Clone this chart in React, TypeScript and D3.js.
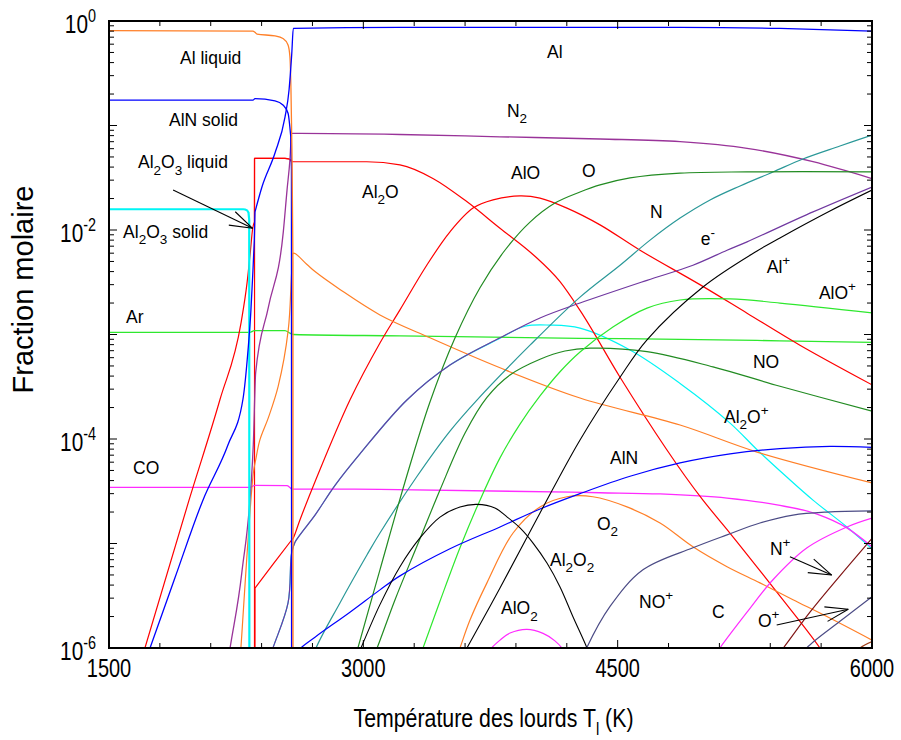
import React from "react";
import * as d3 from "d3";

type Pt = [number, number];

// ---------------- axes data ----------------
const xDomain: [number, number] = [1500, 6000];
const yDomain: [number, number] = [1e-6, 1];
const xTickValues = d3.range(1500, 6001, 300);
const xLabelValues = [1500, 3000, 4500, 6000];
const yDecades = [-6, -5, -4, -3, -2, -1, 0];
const yLabelExponents = [0, -2, -4, -6];
const xTitle = ["Température des lourds T", "l", " (K)"];
const yTitle = "Fraction molaire";

// ---------------- series (T in K, mole fraction) ----------------
const alLiquid: Pt[] = [[1500,0.81],[2349,0.80],[2361,0.78],[2373,0.75],[2479,0.72],[2526,0.68],[2556,0.59],[2567,0.455],[2573,0.23],[2579,0.058],[2585,0.005],[2585.5,1e-7]];
const alnSolid: Pt[] = [[1500,0.175],[2349,0.175],[2361,0.181],[2479,0.172],[2526,0.157],[2556,0.131],[2572,0.078],[2576,0.037],[2577,1e-7]];
const alGas: Pt[] = [[1683,5.4e-7],[1742,1e-6],[1889,4.7e-6],[2054,2.6e-5],[2202,8.8e-5],[2290,2.4e-4],[2320,7.1e-4],[2337,1.7e-3],[2349,4.1e-3],[2357,8.0e-3],[2361,0.0149],[2402,0.0258],[2479,0.0545],[2538,0.12],[2562,0.22],[2578,0.49],[2587,0.85],[3216,0.87],[4278,0.87],[4868,0.87],[5457,0.85],[6000,0.80]];
const al2o3Solid: Pt[] = [[1500,0.0158],[2292,0.0158],[2314,0.0154],[2323,0.0146],[2327,0.0125],[2328,1e-7]];
const al2o3Liquid: Pt[] = [[2358,1e-7],[2358.5,0.0485],[2538,0.0485],[2562,0.0478],[2577,0.0463],[2577.5,1e-7]];
const al2oGas: Pt[] = [[1653,4.7e-7],[1712,1e-6],[1972,2.6e-5],[2155,2.4e-4],[2279,1.3e-3],[2314,3.1e-3],[2332,5.8e-3],[2348,0.0105],[2357.5,0.0119],[2358,0.0485],[2538,0.0485],[2562,0.0478],[2579,0.045],[2626,0.045],[3020,0.045],[3216,0.042],[3413,0.031],[3610,0.0187],[3806,0.0104],[4002,5.8e-3],[4160,3.2e-3],[4278,1.7e-3],[4514,3.9e-4],[5003,2.6e-5],[5162,1.26e-5],[5440,3.4e-6],[5693,1e-6],[5752,7.3e-7]];
const alo: Pt[] = [[2360.5,1e-7],[2361,3.75e-6],[2577,1.08e-5],[2587,1.13e-5],[2626,1.68e-5],[2715,3.9e-5],[2921,2.36e-4],[3098,8.3e-4],[3216,1.72e-3],[3374,4.6e-3],[3511,9.6e-3],[3647,0.0162],[3765,0.0194],[3924,0.0212],[4042,0.0202],[4201,0.0162],[4396,0.0112],[4632,6.4e-3],[4985,3.0e-3],[5263,1.6e-3],[5575,7.9e-4],[6000,3.3e-4]];
const n2: Pt[] = [[2184,4.9e-7],[2214,1e-6],[2283,5.2e-6],[2351,8.8e-5],[2365,4.3e-4],[2440,1.83e-3],[2528,9.6e-3],[2550,0.0241],[2567,0.0468],[2577,0.084],[2626,0.084],[3216,0.082],[3806,0.078],[4396,0.0743],[4868,0.070],[5263,0.0605],[5652,0.045],[6000,0.031]];
const al2: Pt[] = [[2267,5.5e-7],[2278,1e-6],[2351,4.7e-5],[2365,6.3e-5],[2390,9.8e-5],[2440,1.6e-4],[2498,3.2e-4],[2557,1.1e-3],[2577,3.85e-3],[2587,6.0e-3],[2666,4.7e-3],[2715,4.0e-3],[2862,2.7e-3],[3098,1.54e-3],[3393,9.3e-4],[3806,4.8e-4],[4278,2.47e-4],[4868,1.36e-4],[5322,7.5e-5],[6000,3.8e-5]];
const ar: Pt[] = [[1500,1.05e-3],[2332,1.05e-3],[2349,1.08e-3],[2361,1.09e-3],[2538,1.09e-3],[2567,1.03e-3],[2587,1.0e-3],[3216,9.7e-4],[4278,9.2e-4],[4868,9.0e-4],[5457,8.7e-4],[6000,8.4e-4]];
const co: Pt[] = [[1500,3.45e-5],[2332,3.45e-5],[2349,3.55e-5],[2361,3.6e-5],[2550,3.58e-5],[2567,3.43e-5],[2579,3.32e-5],[3098,3.3e-5],[4396,3.06e-5],[4750,2.98e-5],[5145,2.72e-5],[5440,2.34e-5],[5676,1.91e-5],[5852,1.41e-5],[6000,9.3e-6]];
const alnGas: Pt[] = [[2560,7e-7],[2626,9.8e-7],[2715,1.27e-6],[2921,2.2e-6],[3098,3.6e-6],[3216,4.9e-6],[3511,8.9e-6],[3806,1.44e-5],[4042,2.14e-5],[4278,3.0e-5],[4573,4.4e-5],[4868,5.9e-5],[5163,7.2e-5],[5457,8.1e-5],[5752,8.5e-5],[6000,8.3e-5]];
const o: Pt[] = [[2933,6.2e-7],[2968,1e-6],[3098,5.6e-6],[3246,3.9e-5],[3393,2.26e-4],[3541,9.3e-4],[3688,2.8e-3],[3835,6.4e-3],[3983,0.0119],[4130,0.0181],[4278,0.0231],[4396,0.027],[4573,0.0315],[4868,0.035],[5263,0.036],[6000,0.036]];
const no: Pt[] = [[3039,6.9e-7],[3081,1e-6],[3187,2.9e-6],[3317,9.5e-6],[3452,3.25e-5],[3600,1.14e-4],[3729,2.5e-4],[3865,4.1e-4],[4042,5.8e-4],[4189,6.95e-4],[4337,7.4e-4],[4673,6.85e-4],[5062,4.9e-4],[5457,3.2e-4],[6000,1.85e-4]];
const n: Pt[] = [[2656,4.9e-7],[2721,1e-6],[2862,2.7e-6],[3022,7.8e-6],[3098,1.26e-5],[3317,4.4e-5],[3511,1.19e-4],[3670,2.36e-4],[3983,7.9e-4],[4278,2.28e-3],[4514,4.6e-3],[4691,8.0e-3],[4868,0.013],[5045,0.0194],[5222,0.0264],[5416,0.0359],[5593,0.0478],[5811,0.0636],[6000,0.081]];
const eMinus: Pt[] = [[2420,5.9e-7],[2467,1e-6],[2556,2.7e-6],[2577,8.1e-6],[2597,1.03e-5],[2626,1.21e-5],[2715,1.87e-5],[2833,3.6e-5],[2980,7.2e-5],[3257,2.36e-4],[3511,5.1e-4],[3806,9.3e-4],[4042,1.44e-3],[4278,2.0e-3],[4673,3.3e-3],[4944,4.6e-3],[5145,6.4e-3],[5263,7.7e-3],[5652,0.0149],[6000,0.0258]];
const al2oPlus: Pt[] = [[2420,5.9e-7],[2467,1e-6],[2556,2.7e-6],[2577,8.1e-6],[2597,1.03e-5],[2626,1.21e-5],[2715,1.87e-5],[2833,3.6e-5],[2980,7.2e-5],[3257,2.36e-4],[3511,5.1e-4],[3806,9.2e-4],[3953,1.2e-3],[4101,1.23e-3],[4278,1.15e-3],[4573,7.1e-4],[4868,3.4e-4],[5163,1.42e-4],[5322,7.9e-5],[5499,4.3e-5],[5652,2.6e-5],[5852,1.44e-5],[6000,8.9e-6]];
const alPlus: Pt[] = [[3570,7.7e-7],[3611,1e-6],[3806,3.75e-6],[4042,1.96e-5],[4278,9.8e-5],[4514,3.9e-4],[4673,8.9e-4],[5003,2.85e-3],[5322,6.3e-3],[5457,8.4e-3],[5752,0.0152],[6000,0.0241]];
const al2o2: Pt[] = [[2951,7.3e-7],[2986,1e-6],[3098,2.6e-6],[3216,6.0e-6],[3334,1.13e-5],[3452,1.79e-5],[3570,2.24e-5],[3670,2.37e-5],[3776,2.19e-5],[3847,1.8e-5],[3924,1.41e-5],[4001,1.01e-5],[4083,6.5e-6],[4160,3.84e-6],[4237,1.98e-6],[4319,1e-6],[4349,7.3e-7]];
const alo2: Pt[] = [[3717,7.7e-7],[3747,9.6e-7],[3806,1.19e-6],[3865,1.39e-6],[3965,1.51e-6],[4060,1.38e-6],[4130,1.17e-6],[4179,9.6e-7],[4207,7.7e-7]];
const alOPlus: Pt[] = [[3305,6.2e-7],[3352,1e-6],[3452,2.8e-6],[3570,9.1e-6],[3688,2.6e-5],[3806,6.6e-5],[3924,1.39e-4],[4042,2.58e-4],[4160,4.4e-4],[4278,6.8e-4],[4472,1.18e-3],[4673,1.79e-3],[4868,2.14e-3],[5163,2.19e-3],[5457,2.0e-3],[6000,1.61e-3]];
const o2: Pt[] = [[3541,7.3e-7],[3570,1e-6],[3629,1.85e-6],[3729,4.2e-6],[3883,1.26e-5],[4042,2.24e-5],[4201,2.8e-5],[4354,2.8e-5],[4555,2.24e-5],[4750,1.57e-5],[4944,9.3e-6],[5145,6.0e-6],[5339,4.2e-6],[5534,2.9e-6],[5734,2.0e-6],[6000,1.19e-6]];
const noPlus: Pt[] = [[4278,6.9e-7],[4317,1e-6],[4455,2.5e-6],[4649,5.6e-6],[4944,9.1e-6],[5145,1.21e-5],[5339,1.57e-5],[5534,1.87e-5],[5734,2.0e-5],[6000,2.05e-5]];
const c: Pt[] = [[5056,7.7e-7],[5103,1e-6],[5263,2.2e-6],[5416,4.5e-6],[5617,9.1e-6],[5852,1.44e-5],[6000,1.75e-5]];
const nPlus: Pt[] = [[5428,8e-7],[5477,1e-6],[5634,2.2e-6],[5811,4.9e-6],[6000,1.12e-5]];
const oPlus: Pt[] = [[5575,8e-7],[5615,1e-6],[5811,1.8e-6],[6000,3.1e-6]];
const minorIon: Pt[] = [[5870,8e-7],[5929,1e-6],[6000,1.15e-6]];

// ---------------- labels ----------------
const labelTexts = ["Al liquid", "AlN solid", "Al_2O_3 liquid", "Al_2O_3 solid", "Ar", "CO", "Al", "N_2", "Al_2O", "AlO", "O", "N", "e^-", "Al^+", "AlO^+", "NO", "Al_2O^+", "AlN", "O_2", "Al_2O_2", "AlO_2", "NO^+", "C", "N^+", "O^+"];
const labelT = [1919, 1854, 1671, 1583, 1600, 1642, 4083, 3847, 2992, 3871, 4290, 4691, 4990, 5379, 5687, 5298, 5127, 4455, 4378, 4101, 3812, 4626, 5056, 5398, 5327];
const labelV = [0.388, 0.0989, 0.039, 8.44e-3, 1.3e-3, 4.62e-5, 0.44, 0.1214, 0.0204, 0.0308, 0.0324, 0.01294, 7.19e-3, 3.85e-3, 2.17e-3, 4.75e-4, 1.43e-4, 5.76e-5, 1.35e-5, 6.13e-6, 2.1e-6, 2.4e-6, 1.95e-6, 7.76e-6, 1.58e-6];

// arrows: [from, to] in (T, fraction)
const arrowFrom: Pt[] = [[1878, 0.0241], [5516, 7.48e-6], [5438, 1.66e-6]];
const arrowTo: Pt[] = [[2347, 0.01038], [5762, 4.99e-6], [5860, 2.35e-6]];

// ---------------- styling ----------------
const ORANGE = "#FF7F27";
const BLUE = "#0000FF";
const RED = "#FF0000";
const CYAN = "#00F5F5";
const PURPLE = "#993399";
const INDIGO = "#7038A0";
const LGREEN = "#2EE82E";
const DGREEN = "#228B22";
const TEAL = "#2A9898";
const BLACK = "#000000";
const MAGENTA = "#FF2BFF";
const SLATE = "#4B4B85";
const BROWN = "#801515";

const SERIES = [
  { data: al2o3Liquid, color: RED, w: 1.2, mono: true },
  { data: al2oPlus, color: CYAN, w: 1.2, mono: false },
  { data: ar, color: LGREEN, w: 1.3, mono: true },
  { data: co, color: MAGENTA, w: 1.3, mono: true },
  { data: al2oGas, color: RED, w: 1.2, mono: true },
  { data: alo, color: RED, w: 1.2, mono: false },
  { data: al2, color: ORANGE, w: 1.2, mono: false },
  { data: o2, color: ORANGE, w: 1.2, mono: false },
  { data: n2, color: PURPLE, w: 1.3, mono: true },
  { data: n, color: TEAL, w: 1.2, mono: false },
  { data: o, color: DGREEN, w: 1.2, mono: false },
  { data: no, color: DGREEN, w: 1.2, mono: false },
  { data: alOPlus, color: LGREEN, w: 1.2, mono: false },
  { data: alnGas, color: BLUE, w: 1.2, mono: false },
  { data: alPlus, color: BLACK, w: 1.1, mono: false },
  { data: al2o2, color: BLACK, w: 1.1, mono: false },
  { data: alo2, color: MAGENTA, w: 1.2, mono: false },
  { data: c, color: MAGENTA, w: 1.2, mono: false },
  { data: noPlus, color: SLATE, w: 1.2, mono: false },
  { data: oPlus, color: SLATE, w: 1.2, mono: false },
  { data: nPlus, color: BROWN, w: 1.2, mono: false },
  { data: minorIon, color: "#A0401A", w: 1.2, mono: false },
  { data: eMinus, color: INDIGO, w: 1.2, mono: false },
  { data: al2o3Solid, color: CYAN, w: 2.2, mono: true },
  { data: alnSolid, color: BLUE, w: 1.3, mono: true },
  { data: alLiquid, color: ORANGE, w: 1.3, mono: true },
  { data: alGas, color: BLUE, w: 1.3, mono: true },
];

const W = 901, H = 740;
const M = { l: 109, r: 872, t: 21, b: 648 };
const FONT = "'Liberation Sans', Arial, Helvetica, sans-serif";

function parseRich(s: string) {
  const parts: { t: string; k: "n" | "sub" | "sup" }[] = [];
  let buf = "";
  for (let i = 0; i < s.length; i++) {
    const ch = s[i];
    if ((ch === "_" || ch === "^") && i + 1 < s.length) {
      if (buf) { parts.push({ t: buf, k: "n" }); buf = ""; }
      parts.push({ t: s[i + 1], k: ch === "_" ? "sub" : "sup" });
      i++;
    } else buf += ch;
  }
  if (buf) parts.push({ t: buf, k: "n" });
  return parts;
}

function RichLabel({ x, y, text }: { x: number; y: number; text: string }) {
  const parts = parseRich(text);
  let cur = 0;
  return (
    <text x={x} y={y} fontFamily={FONT} fontSize={17.5} fill="#000" style={{ whiteSpace: "pre" }}>
      {parts.map((p, i) => {
        const target = p.k === "sub" ? 6.5 : p.k === "sup" ? -8 : 0;
        const dy = target - cur;
        cur = target;
        return (
          <tspan key={i} dy={dy} fontSize={p.k === "n" ? 17.5 : 13.5}>
            {p.t}
          </tspan>
        );
      })}
    </text>
  );
}

function Arrow({ x1, y1, x2, y2 }: { x1: number; y1: number; x2: number; y2: number }) {
  const ang = Math.atan2(y1 - y2, x1 - x2);
  const L = 24, a = (18 * Math.PI) / 180;
  const b1 = [x2 + L * Math.cos(ang + a), y2 + L * Math.sin(ang + a)];
  const b2 = [x2 + L * Math.cos(ang - a), y2 + L * Math.sin(ang - a)];
  return (
    <g stroke="#000" strokeWidth={1.1} fill="none">
      <line x1={x1} y1={y1} x2={x2} y2={y2} />
      <line x1={b1[0]} y1={b1[1]} x2={x2} y2={y2} />
      <line x1={b2[0]} y1={b2[1]} x2={x2} y2={y2} />
    </g>
  );
}

// split a series into smooth runs and near-vertical jumps
function splitRuns(data: Pt[]): Pt[][] {
  const runs: Pt[][] = [];
  let cur: Pt[] = [data[0]];
  for (let i = 1; i < data.length; i++) {
    if (data[i][0] - data[i - 1][0] <= 4) {
      runs.push(cur);
      runs.push([data[i - 1], data[i]]);
      cur = [data[i]];
    } else cur.push(data[i]);
  }
  runs.push(cur);
  return runs.filter((r) => r.length > 1);
}

export default function App() {
  const x = d3.scaleLinear().domain(xDomain).range([M.l, M.r]);
  const y = d3.scaleLog().domain(yDomain).range([M.b, M.t]);
  const mk = (curve: d3.CurveFactory) =>
    d3
      .line<Pt>()
      .x((d) => x(d[0]))
      .y((d) => y(Math.max(d[1], 1e-9)))
      .curve(curve);
  const smooth = mk(d3.curveCatmullRom.alpha(0.5));
  const mono = mk(d3.curveMonotoneX);
  const straight = mk(d3.curveLinear);
  const pathFor = (data: Pt[], useMono: boolean) =>
    splitRuns(data)
      .map((r) => (r.length > 2 ? (useMono ? mono(r) : smooth(r)) : straight(r)) || "")
      .join("");

  const majorLen = 8, minorLen = 5;
  const yMinor: number[] = [];
  yDecades.forEach((e) => {
    if (e < 0) for (let m = 2; m <= 9; m++) yMinor.push(m * Math.pow(10, e));
  });

  const SX = 0.8;

  return (
    <svg width={W} height={H} style={{ position: "absolute", left: 0, top: 0, background: "#fff" }}>
      <defs>
        <clipPath id="plotclip">
          <rect x={M.l} y={M.t} width={M.r - M.l} height={M.b - M.t} />
        </clipPath>
      </defs>
      <rect x={0} y={0} width={W} height={H} fill="#fff" />

      <g clipPath="url(#plotclip)">
        {SERIES.map((s, i) => (
          <path key={i} d={pathFor(s.data, s.mono)} fill="none" stroke={s.color} strokeWidth={s.w} strokeLinejoin="round" strokeLinecap="round" />
        ))}
      </g>

      {/* ticks */}
      <g stroke="#000" strokeWidth={1}>
        {xTickValues.map((t) => {
          const len = (t - 1500) % 1500 === 0 ? majorLen : minorLen;
          const px = x(t);
          return (
            <g key={t}>
              <line x1={px} x2={px} y1={M.b} y2={M.b - len} />
              <line x1={px} x2={px} y1={M.t} y2={M.t + len} />
            </g>
          );
        })}
        {yDecades.map((e) => {
          const py = y(Math.pow(10, e));
          return (
            <g key={e}>
              <line x1={M.l} x2={M.l + majorLen} y1={py} y2={py} />
              <line x1={M.r} x2={M.r - majorLen} y1={py} y2={py} />
            </g>
          );
        })}
        {yMinor.map((v, i) => {
          const py = y(v);
          return (
            <g key={i}>
              <line x1={M.l} x2={M.l + minorLen} y1={py} y2={py} />
              <line x1={M.r} x2={M.r - minorLen} y1={py} y2={py} />
            </g>
          );
        })}
      </g>

      {/* frame */}
      <rect x={M.l} y={M.t} width={M.r - M.l} height={M.b - M.t} fill="none" stroke="#000" strokeWidth={2} />

      {/* x tick labels */}
      {xLabelValues.map((t) => (
        <text key={t} transform={`translate(${x(t)},${M.b + 29}) scale(${SX},1)`} textAnchor="middle" fontFamily={FONT} fontSize={25} fill="#000">
          {t}
        </text>
      ))}

      {/* y tick labels */}
      {yLabelExponents.map((e) => (
        <text key={e} transform={`translate(96,${y(Math.pow(10, e)) + 12}) scale(${SX},1)`} textAnchor="end" fontFamily={FONT} fontSize={26} fill="#000">
          10
          <tspan dy={-11} fontSize={18}>{String(e)}</tspan>
        </text>
      ))}

      {/* axis titles */}
      <text transform={`translate(${(M.l + M.r) / 2 + 3},727) scale(0.82,1)`} textAnchor="middle" fontFamily={FONT} fontSize={26} fill="#000" style={{ whiteSpace: "pre" }}>
        {xTitle[0]}
        <tspan dy={8} fontSize={18}>{xTitle[1]}</tspan>
        <tspan dy={-8}>{xTitle[2]}</tspan>
      </text>
      <text transform={`translate(33,${(M.t + M.b) / 2 - 45}) rotate(-90)`} textAnchor="middle" fontFamily={FONT} fontSize={29} fill="#000">
        {yTitle}
      </text>

      {/* labels */}
      {labelTexts.map((t, i) => (
        <RichLabel key={i} x={x(labelT[i])} y={y(labelV[i])} text={t} />
      ))}

      {/* arrows */}
      {arrowFrom.map((f, i) => (
        <Arrow key={i} x1={x(f[0])} y1={y(f[1])} x2={x(arrowTo[i][0])} y2={y(arrowTo[i][1])} />
      ))}
    </svg>
  );
}
